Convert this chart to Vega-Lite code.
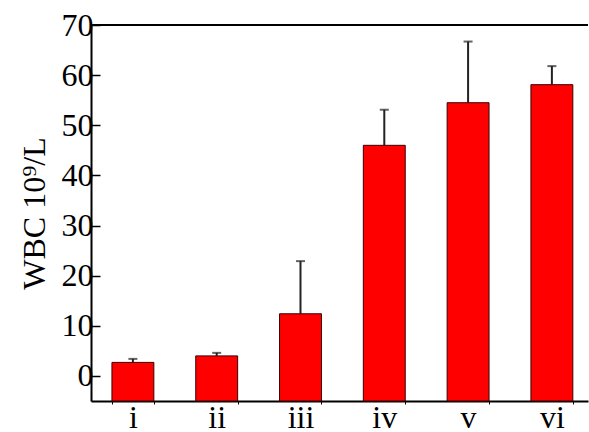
{
  "$schema": "https://vega.github.io/schema/vega-lite/v6.json",
  "width": 497,
  "height": 376,
  "autosize": {"type": "none"},
  "padding": {"left": 91, "top": 25, "right": 1, "bottom": 31},
  "background": "white",
  "config": {"view": {"stroke": null}, "font": "Liberation Serif"},
  "data": {
    "values": [
      {"group": "i", "value": 2.7, "upper": 3.4},
      {"group": "ii", "value": 4.0, "upper": 4.6},
      {"group": "iii", "value": 12.4, "upper": 22.9},
      {"group": "iv", "value": 46.0, "upper": 53.1},
      {"group": "v", "value": 54.5, "upper": 66.7},
      {"group": "vi", "value": 58.1, "upper": 61.8}
    ]
  },
  "layer": [
    {
      "mark": {"type": "rule", "color": "#222222", "strokeWidth": 2},
      "encoding": {
        "x": {
          "field": "group",
          "type": "nominal",
          "sort": null,
          "scale": {"paddingInner": 0.5, "paddingOuter": 0.2155, "align": 0.58},
          "axis": {
            "title": null,
            "labelAngle": 0,
            "labelFontSize": 32,
            "labelColor": "black",
            "labelBaseline": "alphabetic",
            "labelPadding": 23,
            "domainColor": "black",
            "domainWidth": 2,
            "tickColor": "black",
            "tickWidth": 1,
            "tickSize": 3,
            "tickBand": "extent"
          }
        },
        "y": {
          "field": "value",
          "type": "quantitative",
          "scale": {"domain": [-5, 70], "nice": false, "zero": false},
          "axis": {
            "title": "WBC 10⁹/L",
            "titleFontSize": 32,
            "titleFontWeight": "normal",
            "titleColor": "black",
            "titlePadding": 10,
            "values": [0, 5, 10, 15, 20, 25, 30, 35, 40, 45, 50, 55, 60, 65, 70],
            "labelExpr": "datum.value % 10 === 0 ? datum.label : ''",
            "labelFontSize": 32,
            "labelColor": "black",
            "labelPadding": 7,
            "domainColor": "black",
            "domainWidth": 2,
            "tickColor": "black",
            "tickWidth": 1.5,
            "tickSize": {"condition": {"test": "datum.value % 10 === 0", "value": -9}, "value": -5},
            "grid": false
          }
        },
        "y2": {"field": "upper"}
      }
    },
    {
      "mark": {"type": "tick", "orient": "horizontal", "size": 9, "thickness": 2, "color": "#222222"},
      "encoding": {
        "x": {"field": "group", "type": "nominal", "sort": null},
        "y": {"field": "upper", "type": "quantitative"}
      }
    },
    {
      "mark": {"type": "bar", "fill": "#ff0000", "stroke": "#3a0000", "strokeWidth": 1},
      "encoding": {
        "x": {"field": "group", "type": "nominal", "sort": null},
        "y": {"field": "value", "type": "quantitative"},
        "y2": {"datum": -5}
      }
    },
    {
      "mark": {"type": "rule", "color": "black", "strokeWidth": 2},
      "encoding": {"y": {"datum": 70}}
    }
  ]
}
